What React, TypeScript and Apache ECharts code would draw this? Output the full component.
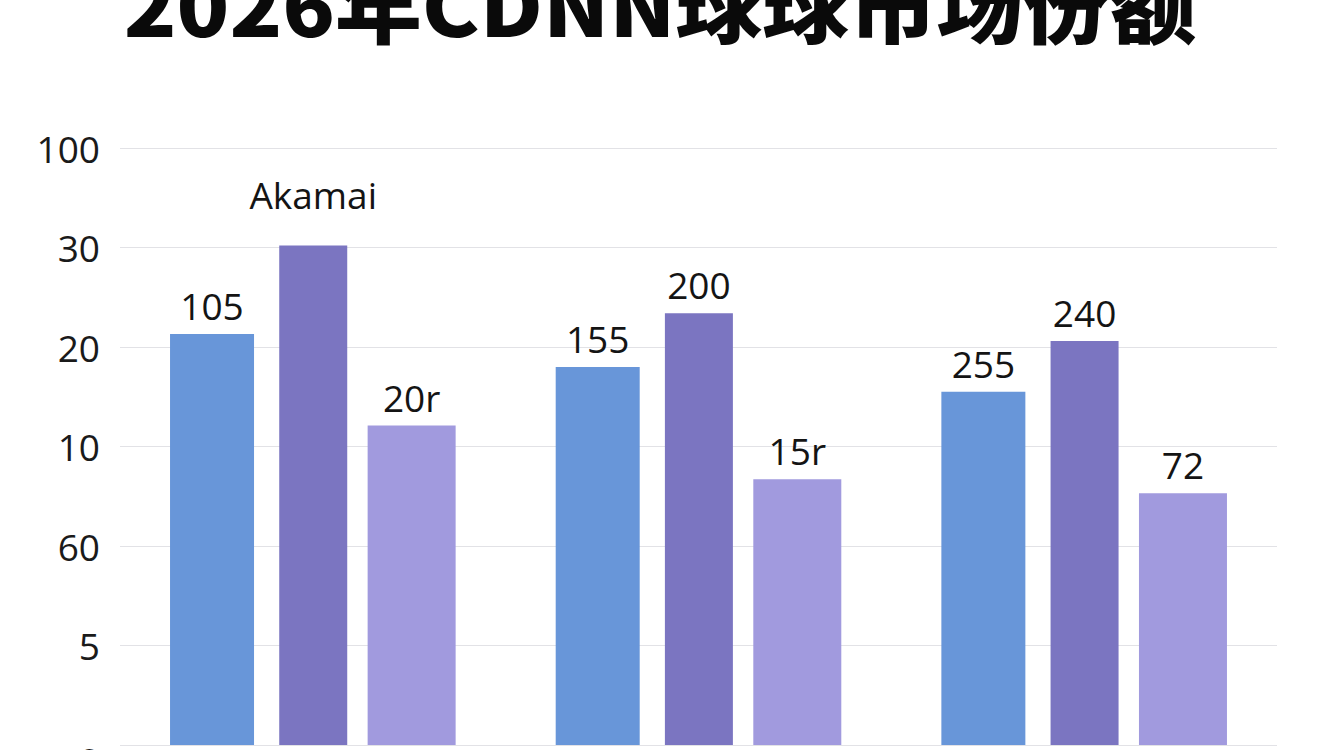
import React, { useEffect, useRef } from 'react';
import * as echarts from 'echarts';

const title = '2026年CDNN球球市场份额';
const categories = ['A', 'B', 'C'];
// tick labels as printed, bottom to top
const yTickLabels = ['0', '5', '60', '10', '20', '30', '100'];
// bar heights in axis steps (each gridline = 1 step)
const blueValues = [4.13, 3.8, 3.55];
const purpleValues = [5.02, 4.34, 4.06];
const lavenderValues = [3.21, 2.67, 2.53];
const blueLabels = ['105', '155', '255'];
const purpleLabels = ['Akamai', '200', '240'];
const lavenderLabels = ['20r', '15r', '72'];

const labelFont = '"Open Sans", "Noto Sans", sans-serif';

const makeData = (values: number[], labels: string[]) =>
  values.map((v, i) => ({
    value: v,
    label: {
      formatter: labels[i],
      distance: labels[i] === 'Akamai' ? 33 : 10,
    },
  }));

const App: React.FC = () => {
  const chartRef = useRef<HTMLDivElement>(null);

  useEffect(() => {
    document.body.style.margin = '0';
    if (!chartRef.current) return;
    const chart = echarts.init(chartRef.current, undefined, { renderer: 'svg' });

    const barLabel = {
      show: true,
      position: 'top',
      color: '#141414',
      fontSize: 37,
      lineHeight: 37,
      fontFamily: labelFont,
    };

    const option = {
      animation: false,
      backgroundColor: '#ffffff',
      graphic: [
        {
          type: 'text',
          x: 660,
          y: 2,
          scaleX: 1.085,
          style: {
            text: title,
            align: 'center',
            verticalAlign: 'middle',
            fontSize: 80,
            fontWeight: 900,
            fontFamily: '"Noto Sans CJK SC", sans-serif',
            fill: '#0a0a0a',
          },
        },
      ],
      grid: { left: 120, right: 67, top: 148, bottom: 5, outerBoundsMode: 'none' },
      xAxis: {
        type: 'category',
        data: categories,
        axisLine: { show: false },
        axisTick: { show: false },
        axisLabel: { show: false },
      },
      yAxis: {
        type: 'value',
        min: 0,
        max: 6,
        interval: 1,
        axisLine: { show: false },
        axisTick: { show: false },
        splitLine: { lineStyle: { color: '#e2e2e6', width: 1.2 } },
        axisLabel: {
          margin: 20,
          color: '#1a1a1a',
          fontSize: 37,
          fontFamily: labelFont,
          formatter: (v: number) => (v === 0 ? '{z|0}' : yTickLabels[v]),
          rich: {
            z: { fontSize: 37, fontFamily: labelFont, color: '#1a1a1a', padding: [30, 0, 0, 0] },
          },
        },
      },
      series: [
        {
          type: 'bar',
          barWidth: 84,
          barGap: '30%',
          itemStyle: { color: '#6896d9' },
          label: barLabel,
          data: makeData(blueValues, blueLabels),
        },
        {
          type: 'bar',
          barWidth: 68,
          barGap: '30%',
          itemStyle: { color: '#7b75c1' },
          label: barLabel,
          data: makeData(purpleValues, purpleLabels),
        },
        {
          type: 'bar',
          barWidth: 88,
          barGap: '30%',
          itemStyle: { color: '#a19ade' },
          label: barLabel,
          data: makeData(lavenderValues, lavenderLabels),
        },
      ],
    } as any;

    chart.setOption(option);
    const handleResize = () => chart.resize();
    window.addEventListener('resize', handleResize);
    return () => {
      window.removeEventListener('resize', handleResize);
      chart.dispose();
    };
  }, []);

  return <div ref={chartRef} style={{ width: '100%', height: 750 }} />;
};

export default App;
